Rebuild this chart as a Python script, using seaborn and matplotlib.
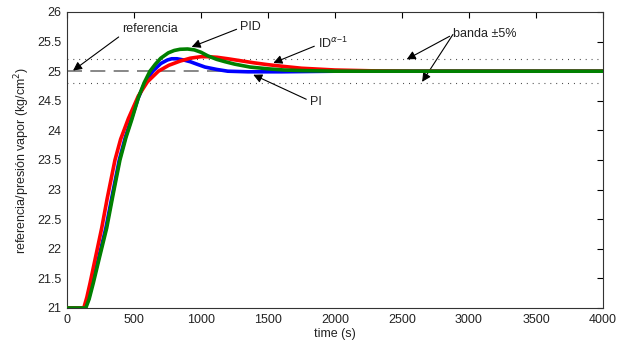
import matplotlib
matplotlib.use("Agg")
import matplotlib.pyplot as plt
import seaborn as sns
import pandas as pd

# ---- data ----
t_pi = [0, 135, 160, 190, 240, 290, 340, 390, 435, 478, 532, 580, 640, 700, 750, 781,
        820, 870, 920, 968, 1030, 1117, 1200, 1350, 1600, 2000, 4000]
y_pi = [21.0, 21.0, 21.15, 21.42, 21.88, 22.35, 22.93, 23.5, 23.88, 24.18, 24.55, 24.8,
        25.0, 25.13, 25.19, 25.21, 25.21, 25.19, 25.16, 25.12, 25.07, 25.03, 25.0, 24.99,
        24.99, 25.0, 25.0]

t_id = [0, 125, 148, 172, 215, 259, 300, 358, 400, 458, 532, 600, 682, 760, 843, 920,
        1000, 1050, 1120, 1200, 1300, 1400, 1500, 1620, 1750, 2000, 2300, 2600, 4000]
y_id = [21.0, 21.0, 21.18, 21.42, 21.88, 22.35, 22.85, 23.5, 23.85, 24.2, 24.58, 24.82,
        25.0, 25.1, 25.17, 25.22, 25.245, 25.245, 25.235, 25.21, 25.175, 25.14, 25.11,
        25.08, 25.05, 25.02, 25.005, 25.0, 25.0]

t_pid = [0, 140, 165, 196, 245, 296, 345, 395, 440, 483, 532, 575, 619, 660, 700, 756,
         800, 843, 900, 950, 1000, 1050, 1117, 1180, 1250, 1366, 1500, 1620, 1750, 2000, 4000]
y_pid = [21.0, 21.0, 21.15, 21.42, 21.88, 22.35, 22.93, 23.5, 23.88, 24.18, 24.55, 24.8,
         25.0, 25.12, 25.22, 25.31, 25.35, 25.37, 25.375, 25.36, 25.32, 25.26, 25.2,
         25.16, 25.12, 25.07, 25.04, 25.02, 25.01, 25.0, 25.0]

referencia = 25.0
banda = [24.8, 25.2]

x_ticks = [0, 500, 1000, 1500, 2000, 2500, 3000, 3500, 4000]
y_ticks = [21, 21.5, 22, 22.5, 23, 23.5, 24, 24.5, 25, 25.5, 26]

sns.set_theme(style="white")
plt.rcParams["font.family"] = ["Liberation Sans", "DejaVu Sans"]

fig = plt.figure(figsize=(6.24, 3.42), dpi=100)
ax = fig.add_axes([67 / 624, 34 / 342, 536 / 624, 296 / 342])

# reference and band
ax.axhline(referencia, color="0.45", lw=1.2, ls=(0, (9, 5)), zorder=1)
for b in banda:
    ax.axhline(b, color="0.2", lw=0.8, ls=(0, (0.8, 4.5)), zorder=1)

df_id = pd.DataFrame({"t": t_id, "y": y_id})
df_pi = pd.DataFrame({"t": t_pi, "y": y_pi})
df_pid = pd.DataFrame({"t": t_pid, "y": y_pid})

sns.lineplot(data=df_pi, x="t", y="y", ax=ax, color="#0000ff", lw=2.6, zorder=3)
sns.lineplot(data=df_id, x="t", y="y", ax=ax, color="#ff0000", lw=2.6, zorder=4)
sns.lineplot(data=df_pid, x="t", y="y", ax=ax, color="#008000", lw=2.6, zorder=5)

ax.set_xlim(0, 4000)
ax.set_ylim(21, 26)
ax.set_xticks(x_ticks)
ax.set_yticks(y_ticks)
ax.set_xticklabels([str(v) for v in x_ticks])
ax.set_yticklabels([f"{v:g}" for v in y_ticks])
ax.tick_params(direction="in", length=4, width=0.8, top=True, right=True,
               labelsize=9, colors="black", pad=4)
ax.tick_params(axis="both", labelcolor="#222222")
for s in ax.spines.values():
    s.set_color("#333333")
    s.set_linewidth(0.8)

ax.set_xlabel("time (s)", fontsize=9, color="#222222", labelpad=2)
ax.set_ylabel("referencia/presión vapor (kg/cm$^2$)", fontsize=9, color="#222222", labelpad=4)

arrow = dict(arrowstyle="-|>", color="black", lw=0.8, mutation_scale=13,
             shrinkA=0, shrinkB=0)
fs = 9
ax.annotate("referencia", xy=(45, 25.01), xytext=(410, 25.72), fontsize=fs,
            ha="left", va="center", color="#222222",
            arrowprops=dict(arrow, relpos=(0, 0.0)))
ax.annotate("PID", xy=(930, 25.41), xytext=(1290, 25.75), fontsize=fs,
            ha="left", va="center", color="#222222",
            arrowprops=dict(arrow, relpos=(0, 0.4)))
ax.annotate("ID$^{\\alpha\\mathregular{-1}}$", xy=(1540, 25.14), xytext=(1870, 25.47),
            fontsize=fs, ha="left", va="center", color="#222222",
            arrowprops=dict(arrow, relpos=(0, 0.4)))
ax.annotate("PI", xy=(1390, 24.94), xytext=(1810, 24.48), fontsize=fs,
            ha="left", va="center", color="#222222",
            arrowprops=dict(arrow, relpos=(0, 0.6)))
ax.annotate("banda ±5%", xy=(2535, 25.2), xytext=(2880, 25.62), fontsize=fs,
            ha="left", va="center", color="#222222",
            arrowprops=dict(arrow, relpos=(0, 0.5)))
ax.annotate("", xy=(2650, 24.82), xytext=(2880, 25.62), arrowprops=arrow)

fig.savefig("out.png", dpi=100)
